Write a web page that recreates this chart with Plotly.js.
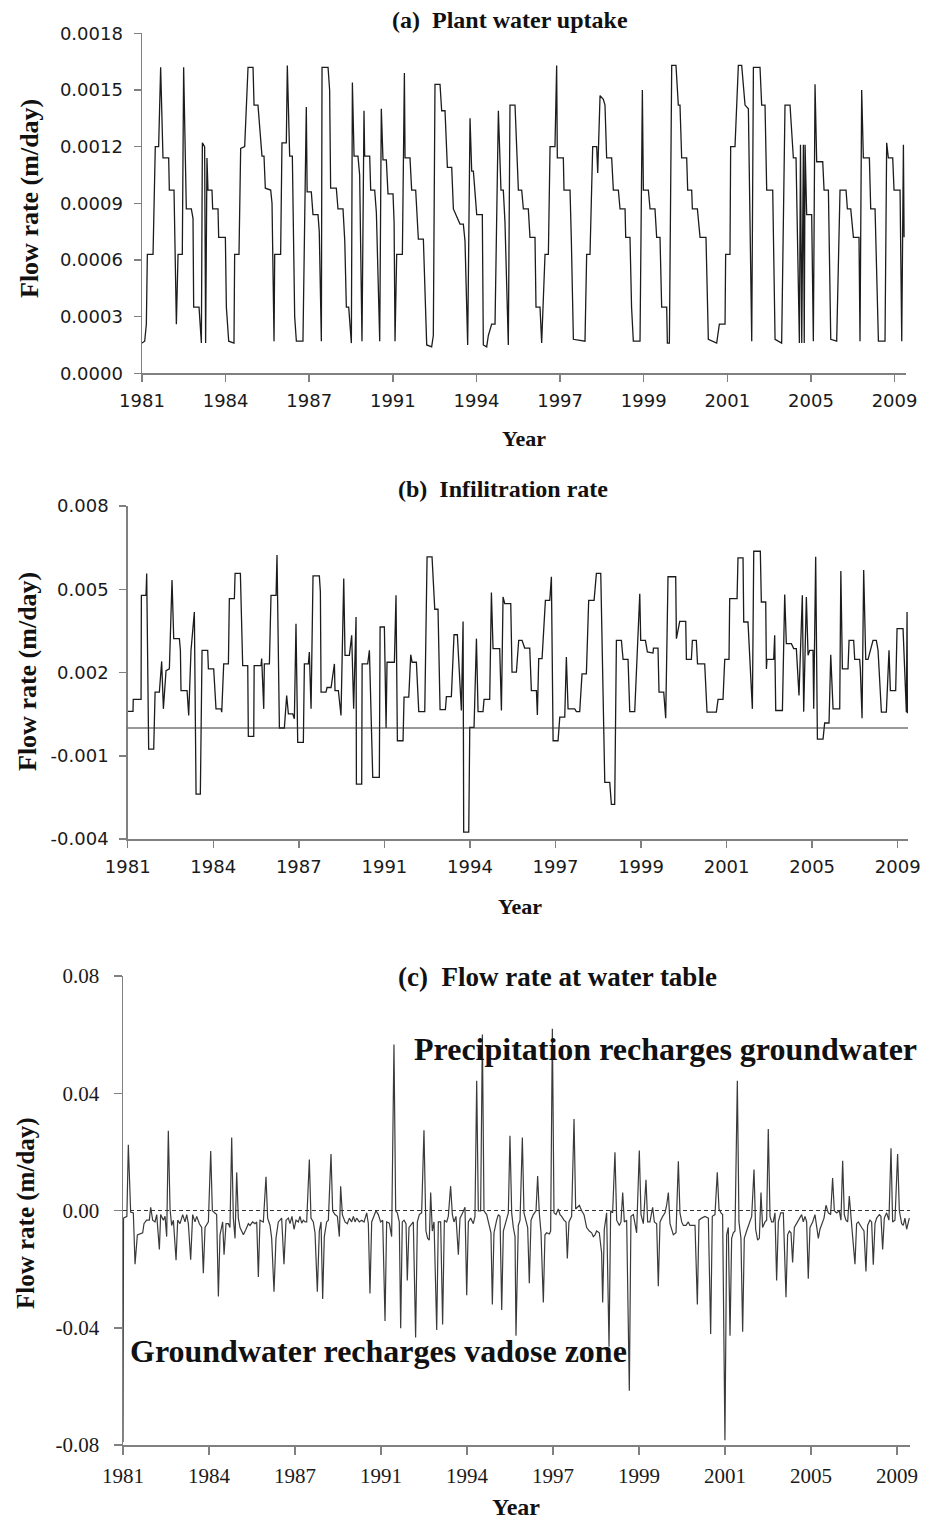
<!DOCTYPE html>
<html>
<head>
<meta charset="utf-8">
<script src="https://cdn.plot.ly/plotly-3.0.1.min.js"></script>
<style>html,body{margin:0;padding:0;background:#fff;}#chart{width:934px;height:1522px;}</style>
</head>
<body>
<div id="chart"></div>
<script>
// ---------- tick labels ----------
var yearTickPos = [0, 100, 200, 300, 400, 500, 600, 700, 800, 900];
var yearLabels = ["1981", "1984", "1987", "1991", "1994", "1997", "1999", "2001", "2005", "2009"];
var ticksA = [0, 0.0003, 0.0006, 0.0009, 0.0012, 0.0015, 0.0018];
var labelsA = ["0.0000", "0.0003", "0.0006", "0.0009", "0.0012", "0.0015", "0.0018"];
var ticksB = [-0.004, -0.001, 0.002, 0.005, 0.008];
var labelsB = ["-0.004", "-0.001", "0.002", "0.005", "0.008"];
var ticksC = [-0.08, -0.04, 0, 0.04, 0.08];
var labelsC = ["-0.08", "-0.04", "0.00", "0.04", "0.08"];

// ---------- (a) plant water uptake ----------
var tA = [0,3.2,5.2,6.4,13.2,15.9,19.9,22.3,25.1,31.9,32.7,38.3,41.1,43.1,48.2,49.8,53.0,59.0,61.0,61.8,68.2,71.0,72.2,74.9,76.1,77.7,78.9,83.7,84.5,90.9,91.7,99.7,100.9,103.7,110.0,110.8,116.0,118.0,122.8,126.8,132.8,134.0,138.7,143.5,145.9,147.5,153.9,155.5,157.9,158.7,165.8,167.4,172.6,173.8,176.6,179.8,182.6,184.6,192.5,196.5,197.5,202.5,204.5,210.5,212.0,214.5,215.3,222.5,224.4,225.6,232.4,234.4,240.4,242.5,244.4,247.2,250.4,251.6,253.6,258.3,260.3,263.1,265.5,266.3,272.3,273.5,278.3,280.3,284.3,286.2,288.2,292.2,294.2,300.2,301.5,302.6,304.6,311.4,313.8,314.6,320.5,322.5,327.3,330.5,336.5,338.5,340.5,346.4,348.4,350.4,356.4,358.4,362.4,365.2,370.4,372.4,376.4,380.3,384.3,386.3,389.5,392.3,394.3,396.3,400.3,407.0,408.2,412.2,414.2,418.2,422.2,426.2,429.3,432.1,434.1,438.1,440.1,446.1,450.1,454.1,456.1,462.0,464.0,470.0,471.2,476.0,478.0,482.0,486.0,488.0,493.9,495.9,496.7,503.9,504.7,511.9,513.5,515.9,529.8,531.8,535.8,539.0,543.8,545.0,547.8,551.7,553.7,555.7,561.7,563.7,569.7,571.7,577.7,578.5,583.6,585.5,587.6,595.6,598.4,599.6,605.6,607.6,613.5,615.5,619.5,621.5,627.5,628.3,630.7,633.5,638.6,641.4,643.4,645.4,651.4,652.6,657.4,658.2,664.2,667.4,674.5,677.3,687.3,690.5,697.3,698.0,703.2,704.0,709.2,713.2,717.2,721.2,725.2,729.2,731.2,739.1,741.1,745.1,747.1,754.3,757.1,765.0,769.0,775.0,779.0,782.2,786.2,787.5,789.0,791.0,792.0,793.0,794.9,800.9,802.9,804.9,806.9,814.1,815.7,820.9,823.7,830.8,834.8,842.0,843.6,847.6,850.8,857.5,858.7,860.7,862.7,869.9,871.5,876.7,880.7,888.6,890.6,892.6,897.8,899.4,906.6,908.6,910.6,911.4];
var flowA = [0.00016,0.00017,0.00026,0.00063,0.00063,0.00120,0.00120,0.00162,0.00114,0.00114,0.00097,0.00097,0.00026,0.00063,0.00063,0.00162,0.00087,0.00087,0.00082,0.00035,0.00035,0.00016,0.00122,0.00120,0.00016,0.00114,0.00097,0.00097,0.00087,0.00087,0.00072,0.00072,0.00035,0.00017,0.00016,0.00063,0.00063,0.00119,0.00120,0.00162,0.00162,0.00142,0.00142,0.00115,0.00115,0.00098,0.00097,0.00090,0.00017,0.00063,0.00063,0.00122,0.00122,0.00163,0.00115,0.00115,0.00030,0.00017,0.00017,0.00141,0.00096,0.00096,0.00084,0.00084,0.00075,0.00017,0.00162,0.00162,0.00150,0.00098,0.00098,0.00087,0.00087,0.00070,0.00035,0.00035,0.00016,0.00154,0.00115,0.00115,0.00105,0.00017,0.00139,0.00115,0.00115,0.00097,0.00097,0.00085,0.00017,0.00140,0.00113,0.00113,0.00095,0.00095,0.00080,0.00017,0.00063,0.00063,0.00159,0.00114,0.00114,0.00097,0.00097,0.00071,0.00071,0.00035,0.00015,0.00014,0.00020,0.00153,0.00153,0.00139,0.00139,0.00109,0.00109,0.00087,0.00083,0.00079,0.00079,0.00070,0.00015,0.00135,0.00107,0.00107,0.00084,0.00084,0.00015,0.00014,0.00020,0.00026,0.00026,0.00139,0.00097,0.00097,0.00080,0.00015,0.00142,0.00142,0.00097,0.00097,0.00087,0.00087,0.00072,0.00072,0.00035,0.00035,0.00016,0.00063,0.00063,0.00120,0.00120,0.00163,0.00114,0.00114,0.00097,0.00097,0.00070,0.00018,0.00017,0.00063,0.00063,0.00120,0.00120,0.00106,0.00147,0.00145,0.00142,0.00114,0.00114,0.00097,0.00097,0.00087,0.00087,0.00072,0.00072,0.00035,0.00017,0.00017,0.00150,0.00097,0.00097,0.00087,0.00087,0.00072,0.00072,0.00035,0.00035,0.00016,0.00016,0.00163,0.00163,0.00142,0.00142,0.00114,0.00114,0.00097,0.00097,0.00087,0.00087,0.00072,0.00072,0.00018,0.00016,0.00026,0.00026,0.00063,0.00063,0.00120,0.00120,0.00163,0.00163,0.00142,0.00140,0.00017,0.00162,0.00162,0.00142,0.00142,0.00097,0.00097,0.00018,0.00016,0.00142,0.00142,0.00114,0.00114,0.00016,0.00121,0.00016,0.00121,0.00016,0.00121,0.00084,0.00084,0.00017,0.00153,0.00112,0.00112,0.00097,0.00097,0.00018,0.00017,0.00097,0.00097,0.00087,0.00087,0.00072,0.00072,0.00017,0.00150,0.00114,0.00114,0.00087,0.00087,0.00017,0.00017,0.00122,0.00114,0.00114,0.00097,0.00097,0.00017,0.00121,0.00072];

// ---------- (b) infiltration rate ----------
var tB = [0,6.2,6.5,15.6,16.0,21.4,22.2,24.5,30.4,32.0,37.0,39.7,41.7,44.8,48.7,51.8,53.8,60.4,61.6,62.3,69.4,71.3,74.0,77.9,79.9,84.9,86.9,93.5,94.3,100.5,103.2,109.1,109.9,112.2,117.7,118.8,124.7,125.5,131.7,134.4,140.3,141.0,147.3,147.8,155.8,156.6,159.0,159.7,165.6,167.5,173.4,174.5,177.3,183.1,185.8,187.8,192.9,194.8,196.7,198.7,205.3,206.5,211.2,212.3,214.3,216.6,224.0,225.2,226.0,231.8,233.0,237.7,241.6,242.3,246.2,249.3,252.5,254.0,259.1,261.8,264.1,266.9,267.3,273.5,274.0,280.5,282.5,284.4,286.4,294.1,295.0,300.0,302.0,303.1,311.7,313.6,315.2,321.8,323.0,328.5,330.8,332.4,337.4,340.2,347.2,349.9,355.7,358.9,362.7,365.1,371.3,372.5,378.3,381.4,385.3,390.0,392.0,392.7,398.6,399.8,404.8,407.6,409.5,415.3,416.5,423.1,425.1,427.0,434.8,436.8,438.7,440.7,447.7,449.2,454.3,457.0,460.9,464.0,469.9,471.8,477.7,478.8,480.4,484.3,488.2,493.3,495.2,497.2,503.0,505.0,510.8,512.7,514.7,522.5,524.4,528.3,531.0,536.1,538.8,545.1,547.8,552.9,557.6,563.4,565.3,569.2,571.2,577.0,579.0,584.8,586.8,592.6,598.5,599.6,605.1,607.4,614.0,614.5,619.8,621.0,626.5,628.8,631.5,640.5,641.3,645.2,652.2,653.0,658.8,660.0,664.6,666.0,674.4,677.1,688.0,690.0,695.8,697.8,702.8,703.6,712.2,713.3,719.2,720.0,725.0,730.1,731.7,739.4,740.6,745.7,746.5,747.2,755.0,756.2,757.4,765.2,767.9,769.8,775.7,778.4,781.5,784.6,788.5,790.1,793.2,795.2,797.1,801.0,801.8,804.1,806.1,812.7,814.6,819.7,821.7,824.4,832.2,833.5,835.3,841.9,843.1,848.5,849.7,855.5,856.3,858.3,860.2,862.6,865.3,871.1,875.0,877.0,880.9,886.7,889.8,891.4,897.6,899.2,906.2,910.1,910.9,911.3];
var flowB = [0.00060,0.00060,0.00103,0.00103,0.00478,0.00478,0.00557,-0.00076,-0.00076,0.00129,0.00129,0.00240,0.00069,0.00207,0.00213,0.00533,0.00322,0.00322,0.00280,0.00135,0.00135,0.00045,0.00280,0.00418,-0.00238,-0.00238,0.00280,0.00280,0.00213,0.00213,0.00069,0.00069,0.00057,0.00231,0.00231,0.00466,0.00466,0.00557,0.00557,0.00225,0.00225,-0.00030,-0.00030,0.00225,0.00225,0.00250,0.00069,0.00231,0.00231,0.00478,0.00478,0.00623,0.00000,0.00000,0.00117,0.00051,0.00051,0.00033,0.00376,-0.00052,-0.00052,0.00231,0.00231,0.00274,0.00069,0.00548,0.00548,0.00490,0.00129,0.00129,0.00146,0.00146,0.00231,0.00135,0.00135,0.00045,0.00539,0.00262,0.00262,0.00334,0.00069,0.00400,-0.00202,-0.00202,0.00231,0.00231,0.00280,0.00050,-0.00178,-0.00178,0.00364,0.00364,0.00000,0.00237,0.00237,0.00478,-0.00046,-0.00046,0.00111,0.00111,0.00264,0.00237,0.00237,0.00059,0.00059,0.00617,0.00617,0.00428,0.00428,0.00066,0.00066,0.00113,0.00113,0.00336,0.00336,0.00063,0.00384,-0.00375,-0.00375,0.00002,0.00002,0.00322,0.00059,0.00059,0.00103,0.00103,0.00488,0.00286,0.00286,0.00063,0.00472,0.00448,0.00448,0.00201,0.00201,0.00316,0.00316,0.00288,0.00288,0.00135,0.00135,0.00047,0.00250,0.00250,0.00460,0.00460,0.00545,-0.00046,-0.00046,0.00039,0.00039,0.00256,0.00069,0.00069,0.00059,0.00059,0.00195,0.00195,0.00460,0.00460,0.00557,0.00557,-0.00196,-0.00196,-0.00275,-0.00275,0.00316,0.00316,0.00247,0.00247,0.00059,0.00059,0.00484,0.00316,0.00316,0.00274,0.00270,0.00288,0.00288,0.00129,0.00129,0.00035,0.00545,0.00545,0.00322,0.00384,0.00384,0.00247,0.00247,0.00316,0.00316,0.00231,0.00231,0.00057,0.00057,0.00103,0.00103,0.00247,0.00247,0.00466,0.00466,0.00613,0.00613,0.00382,0.00382,0.00069,0.00637,0.00637,0.00454,0.00454,0.00213,0.00247,0.00247,0.00334,0.00063,0.00063,0.00481,0.00304,0.00304,0.00286,0.00286,0.00117,0.00478,0.00059,0.00472,0.00262,0.00280,0.00280,0.00069,0.00617,-0.00040,-0.00040,0.00018,0.00018,0.00264,0.00069,0.00069,0.00566,0.00213,0.00213,0.00316,0.00316,0.00247,0.00247,0.00213,0.00035,0.00569,0.00247,0.00247,0.00316,0.00316,0.00280,0.00057,0.00057,0.00280,0.00135,0.00135,0.00358,0.00358,0.00057,0.00418,0.00053];

// ---------- (c) flow rate at water table ----------
var tC = [0,0.6,4.5,6.2,8.9,12.0,14.0,16.7,22.9,24.4,27.5,30.6,32.2,34.5,37.2,39.2,42.3,43.8,46.9,48.9,50.8,52.7,54.7,56.6,58.6,61.7,63.6,66.3,69.4,72.1,74.1,76.0,78.7,81.0,83.7,85.7,88.8,91.5,93.4,95.4,99.3,102.0,103.9,107.0,108.9,110.9,112.8,115.9,117.5,119.8,122.5,124.4,126.4,128.3,130.3,132.2,134.1,136.1,140.0,143.0,145.8,147.7,150.8,153.5,155.5,157.4,159.3,163.2,166.3,168.2,171.0,172.9,175.6,177.9,180.6,182.6,184.5,187.2,189.6,192.3,194.2,196.5,198.9,201.2,203.9,205.8,207.8,209.7,211.7,213.6,216.7,218.6,221.3,223.3,226.0,228.3,230.3,232.2,234.1,236.8,238.8,241.9,243.8,246.5,249.3,251.6,253.1,255.1,258.2,260.9,263.2,265.9,267.9,269.8,271.7,274.8,277.5,280.3,283.4,285.3,287.2,289.2,291.9,294.2,296.9,299.6,302.0,304.7,306.6,309.7,312.4,315.1,317.1,319.0,321.3,322.9,324.8,326.8,329.1,330.6,332.6,335.7,337.6,340.3,342.3,344.6,347.3,350.0,352.3,354.3,356.2,357.8,359.7,361.7,364.8,366.7,369.4,371.7,373.7,376.4,378.3,381.0,383.0,384.9,387.2,390.0,391.9,395.0,397.7,399.7,401.6,404.3,407.4,409.3,411.3,413.2,415.9,417.9,419.8,422.9,426.0,427.9,429.5,431.4,434.5,436.5,438.4,440.4,442.3,445.4,448.1,450.0,452.0,453.9,455.9,457.0,459.7,461.7,464.4,466.3,468.6,470.6,472.5,474.5,477.2,480.3,482.2,484.1,486.1,488.8,490.7,492.7,495.8,497.3,499.3,501.2,503.5,506.2,508.2,510.1,512.8,515.2,516.7,518.6,521.7,524.5,526.4,528.3,530.7,533.4,536.1,539.2,542.3,545.0,546.9,548.9,550.8,553.9,556.6,557.8,559.7,562.4,565.2,567.1,569.4,572.1,574.1,577.2,579.1,581.1,583.0,585.7,588.8,590.7,593.5,597.3,600.4,602.4,605.1,608.2,610.1,612.8,615.9,617.9,620.6,622.5,624.5,627.6,630.3,632.2,634.2,636.1,640.0,643.1,645.8,647.7,649.7,651.6,654.7,657.4,659.3,662.4,665.2,667.9,669.8,672.9,676.8,680.7,683.4,685.3,688.4,691.1,693.1,695.4,697.3,700.0,702.0,703.9,705.9,707.8,709.7,711.7,714.4,716.3,718.6,720.6,722.5,725.2,728.3,731.1,733.8,735.7,738.0,740.0,741.9,743.8,746.6,748.5,750.4,752.4,754.3,756.2,758.2,760.1,762.1,764.8,767.9,771.0,772.9,774.9,776.8,778.7,780.7,783.4,786.5,789.2,791.1,793.1,795.0,796.9,798.9,802.0,804.7,806.6,808.6,810.5,812.4,815.2,817.5,820.2,822.9,825.2,827.2,829.9,833.0,834.9,836.9,838.8,840.7,842.7,844.6,846.6,848.5,851.2,853.1,855.1,857.0,859.0,861.7,864.0,865.9,868.6,870.6,872.5,874.5,876.4,879.5,881.4,883.4,885.3,888.0,890.7,893.1,895.0,897.7,900.8,902.8,905.5,907.4,909.3,911.3,913.2,914.4];
var flowC = [-0.0790,-0.0026,-0.0020,0.0224,-0.0005,-0.0008,-0.0183,-0.0083,-0.0076,-0.0045,-0.0033,-0.0033,0.0011,-0.0033,-0.0039,-0.0014,-0.0133,-0.0014,-0.0033,-0.0020,-0.0089,0.0272,0.0005,-0.0051,-0.0033,-0.0170,-0.0033,-0.0045,-0.0014,-0.0039,-0.0014,-0.0045,-0.0168,-0.0014,-0.0039,-0.0020,-0.0045,-0.0058,-0.0214,-0.0058,-0.0039,0.0203,-0.0001,-0.0008,-0.0014,-0.0293,-0.0083,-0.0039,-0.0151,-0.0045,-0.0045,-0.0058,0.0249,-0.0026,-0.0095,0.0130,-0.0026,-0.0058,-0.0083,-0.0064,-0.0045,-0.0051,-0.0039,-0.0045,-0.0039,-0.0227,-0.0033,-0.0039,0.0115,-0.0026,-0.0051,-0.0095,-0.0277,-0.0095,-0.0039,-0.0033,-0.0026,-0.0183,-0.0033,-0.0026,-0.0045,-0.0020,-0.0064,-0.0033,-0.0039,-0.0020,-0.0043,-0.0033,-0.0039,-0.0039,0.0174,-0.0026,-0.0039,-0.0076,-0.0277,-0.0070,-0.0039,-0.0302,-0.0089,-0.0039,-0.0033,0.0193,-0.0001,-0.0014,-0.0020,-0.0089,0.0083,-0.0014,-0.0039,-0.0045,-0.0026,-0.0039,-0.0020,-0.0039,-0.0026,-0.0039,-0.0033,-0.0039,-0.0008,-0.0045,-0.0283,-0.0039,-0.0014,-0.0001,-0.0014,-0.0039,-0.0033,-0.0377,-0.0039,-0.0043,-0.0089,0.0566,-0.0001,-0.0008,-0.0039,-0.0402,-0.0039,-0.0033,-0.0045,-0.0239,-0.0058,-0.0045,-0.0039,-0.0433,-0.0039,-0.0014,-0.0008,0.0274,-0.0070,-0.0095,-0.0101,0.0061,-0.0070,-0.0039,-0.0408,-0.0039,-0.0039,-0.0389,-0.0033,-0.0039,-0.0020,0.0083,-0.0014,-0.0039,-0.0020,-0.0151,-0.0026,-0.0008,0.0011,-0.0289,-0.0039,-0.0026,-0.0045,-0.0020,0.0443,-0.0001,-0.0001,0.0600,-0.0001,-0.0014,-0.0051,-0.0076,-0.0321,-0.0076,-0.0033,-0.0014,-0.0020,-0.0339,-0.0070,-0.0039,-0.0008,0.0255,-0.0008,-0.0058,-0.0089,-0.0427,-0.0051,-0.0033,0.0249,-0.0008,-0.0039,-0.0058,-0.0248,-0.0033,-0.0014,-0.0001,0.0118,-0.0008,-0.0076,-0.0314,-0.0083,-0.0076,-0.0080,-0.0070,0.0620,-0.0008,-0.0014,0.0005,-0.0014,-0.0020,-0.0033,-0.0039,-0.0164,-0.0039,-0.0020,0.0312,0.0005,0.0011,0.0018,-0.0001,-0.0014,-0.0058,-0.0070,-0.0076,-0.0089,-0.0083,-0.0070,-0.0076,-0.0145,-0.0314,-0.0064,-0.0008,-0.0465,-0.0001,-0.0008,0.0199,-0.0033,-0.0051,-0.0039,0.0061,-0.0039,-0.0033,-0.0615,-0.0020,-0.0014,-0.0076,0.0205,-0.0014,-0.0045,0.0105,-0.0039,-0.0039,0.0011,-0.0039,-0.0045,-0.0258,-0.0039,-0.0020,-0.0008,0.0018,0.0061,-0.0045,-0.0083,-0.0076,0.0168,-0.0008,-0.0039,-0.0051,-0.0051,-0.0039,-0.0051,-0.0051,-0.0051,-0.0321,-0.0033,-0.0026,-0.0020,-0.0026,-0.0421,-0.0020,-0.0014,0.0130,0.0005,-0.0008,-0.0014,-0.0784,-0.0083,-0.0058,-0.0427,-0.0095,-0.0076,-0.0070,0.0443,-0.0039,-0.0095,-0.0414,-0.0095,-0.0070,-0.0045,-0.0020,0.0140,-0.0064,-0.0101,-0.0095,0.0061,-0.0058,-0.0039,-0.0033,0.0278,-0.0020,-0.0039,-0.0039,-0.0008,-0.0239,-0.0039,-0.0008,-0.0008,-0.0296,-0.0083,-0.0070,-0.0076,-0.0177,-0.0058,-0.0045,-0.0026,-0.0014,-0.0039,-0.0020,-0.0039,-0.0233,-0.0058,-0.0039,-0.0014,-0.0051,-0.0095,-0.0064,-0.0045,-0.0026,0.0018,-0.0008,-0.0014,0.0111,-0.0001,-0.0008,-0.0001,-0.0033,0.0170,-0.0014,-0.0033,-0.0039,0.0049,-0.0033,-0.0089,-0.0183,-0.0045,-0.0039,-0.0051,-0.0058,-0.0070,-0.0208,-0.0051,-0.0033,-0.0039,-0.0185,-0.0045,-0.0026,-0.0014,-0.0020,-0.0133,-0.0026,-0.0008,-0.0033,0.0212,-0.0039,-0.0033,0.0193,-0.0001,-0.0045,-0.0051,-0.0026,-0.0064,-0.0039,-0.0026];

var W = 934, H = 1522;
function px(x){ return x / W; }
function py(y){ return 1 - y / H; }

var lineBlack = {color: '#1c1c1c', width: 1.3};
var traces = [
  {x: tA, y: flowA, type: 'scatter', mode: 'lines', line: lineBlack, xaxis: 'x', yaxis: 'y', hoverinfo: 'skip'},
  {x: tB, y: flowB, type: 'scatter', mode: 'lines', line: lineBlack, xaxis: 'x2', yaxis: 'y2', hoverinfo: 'skip'},
  {x: tC, y: flowC, type: 'scatter', mode: 'lines', line: {color: '#3a3a3a', width: 1.2}, xaxis: 'x3', yaxis: 'y3', hoverinfo: 'skip'}
];

var axisCommon = {
  showline: true, linecolor: '#808080', linewidth: 1.5, mirror: false,
  ticks: 'outside', ticklen: 7, tickwidth: 1.5, tickcolor: '#808080',
  showgrid: false, zeroline: false, tickmode: 'array', fixedrange: true
};
var sansTick = {family: 'DejaVu Sans', size: 18, color: '#1a1a1a'};
var serifTick = {family: 'Liberation Serif', size: 21, color: '#1a1a1a'};

function xax(dom, rng, anchor, font, so){
  return Object.assign({}, axisCommon, {domain: dom, range: rng, anchor: anchor,
    tickvals: yearTickPos, ticktext: yearLabels, tickfont: font, ticklabelstandoff: so});
}
function yax(dom, rng, anchor, vals, texts, font, so){
  return Object.assign({}, axisCommon, {domain: dom, range: rng, anchor: anchor,
    tickvals: vals, ticktext: texts, tickfont: font, ticklabelstandoff: so});
}

var bold = function(t){ return '<b>' + t + '</b>'; };
var serifBold = function(sz){ return {family: 'Liberation Serif', size: sz, color: '#111'}; };
function ann(text, x, y, sz, angle){
  return {text: bold(text), x: px(x), y: py(y), xref: 'paper', yref: 'paper',
    xanchor: 'center', yanchor: 'middle', showarrow: false, font: serifBold(sz), textangle: angle || 0};
}

var layout = {
  width: W, height: H, margin: {l: 0, r: 0, t: 0, b: 0},
  paper_bgcolor: '#fff', plot_bgcolor: '#fff', showlegend: false,
  xaxis: xax([px(142), px(906)], [0, 913.7], 'y', sansTick, 4),
  yaxis: yax([py(373.3), py(33.3)], [0, 0.0018], 'x', ticksA, labelsA, sansTick, 7),
  xaxis2: xax([px(127.7), px(908)], [0, 912.0], 'y2', sansTick, 4),
  yaxis2: yax([py(839), py(506)], [-0.004, 0.008], 'x2', ticksB, labelsB, sansTick, 7),
  xaxis3: Object.assign(xax([px(123), px(910)], [0, 915.2], 'y3', serifTick, 3), {ticklen: 8}),
  yaxis3: Object.assign(yax([py(1445), py(976)], [-0.08, 0.08], 'x3', ticksC, labelsC, serifTick, 10), {ticklen: 8}),
  shapes: [
    {type: 'line', xref: 'x2 domain', yref: 'y2', x0: 0, x1: 1, y0: 0, y1: 0, line: {color: '#333', width: 1.2}},
    {type: 'line', xref: 'x3 domain', yref: 'y3', x0: 0, x1: 1, y0: 0, y1: 0, line: {color: '#333', width: 1.2, dash: '4px,3px'}}
  ],
  annotations: [
    ann('(a)\u00a0\u00a0Plant water uptake', 510, 20, 24),
    ann('(b)\u00a0\u00a0Infilitration rate', 503, 489, 24),
    ann('(c)\u00a0\u00a0Flow rate at water table', 557, 977, 27),
    ann('Flow rate (m/day)', 29, 199, 26, -90),
    ann('Flow rate (m/day)', 27, 672, 26, -90),
    ann('Flow rate (m/day)', 26, 1213, 25, -90),
    ann('Year', 524, 438, 22),
    ann('Year', 520, 906, 22),
    ann('Year', 516, 1507, 24),
    ann('Precipitation recharges groundwater', 665, 1049, 32),
    ann('Groundwater recharges vadose zone', 378, 1351, 32)
  ]
};

Plotly.newPlot('chart', traces, layout, {staticPlot: true, displayModeBar: false});
</script>
</body>
</html>
